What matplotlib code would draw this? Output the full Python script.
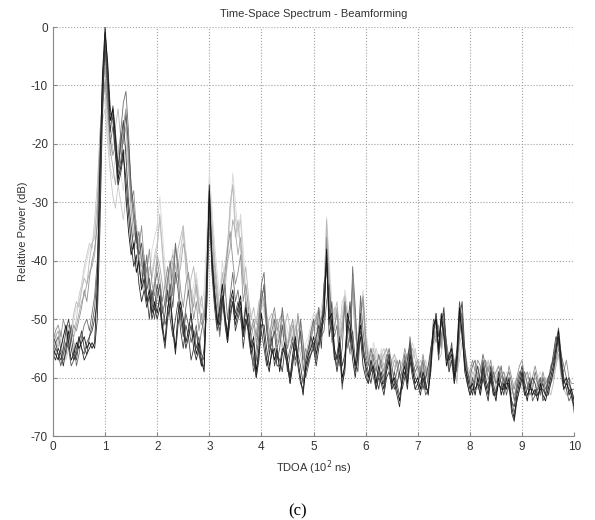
import numpy as np
import matplotlib
matplotlib.use("Agg")
import matplotlib.pyplot as plt

# TDOA grid (10^2 ns), one sample every 0.05
tdoa = np.linspace(0, 10, 201)

# relative power (dB) of the beamformed spectra
s1 = [-55,-56,-57,-55,-53,-51,-54,-57,-56,-54,-55,-54,-53,-55,-54,-55,-54,-44,-24,-8,
      0,-7,-16,-14,-19,-26,-24,-21,-29,-35,-39,-37,-42,-40,-45,-43,-47,-45,-49,-47,
      -49,-46,-51,-54,-48,-46,-51,-55,-49,-47,-50,-54,-52,-49,-53,-56,-54,-57,-59,-42,
      -28,-40,-46,-51,-48,-44,-49,-53,-47,-45,-50,-48,-46,-52,-48,-51,-55,-53,-59,-55,
      -49,-53,-57,-59,-55,-57,-55,-59,-56,-54,-57,-60,-56,-53,-57,-60,-63,-58,-56,-55,
      -53,-56,-54,-51,-49,-38,-50,-49,-55,-57,-54,-60,-58,-49,-51,-55,-58,-54,-51,-56,
      -58,-60,-57,-59,-61,-58,-60,-62,-59,-57,-61,-60,-62,-64,-60,-58,-61,-56,-59,-61,
      -60,-62,-59,-61,-63,-58,-51,-50,-55,-49,-53,-58,-56,-55,-60,-56,-48,-53,-58,-60,
      -62,-61,-63,-60,-62,-58,-61,-63,-59,-62,-64,-60,-63,-61,-62,-60,-65,-67,-63,-61,
      -59,-62,-64,-61,-63,-62,-64,-61,-63,-64,-62,-60,-58,-55,-52,-57,-61,-60,-63,-62,
      -64]
s2 = [-53,-54,-56,-57,-55,-52,-50,-53,-56,-57,-54,-52,-55,-56,-53,-52,-50,-47,-30,-10,
      -3,-10,-18,-13.5,-18,-24,-20,-16,-22,-30,-34,-38,-35,-41,-44,-40,-46,-50,-45,-48,
      -44,-47,-52,-49,-45,-50,-53,-50,-47,-52,-55,-51,-53,-57,-55,-52,-56,-58,-55,-48,
      -30,-42,-48,-52,-49,-46,-51,-54,-50,-47,-52,-50,-48,-55,-51,-49,-53,-57,-60,-56,
      -52,-55,-58,-56,-53,-58,-56,-57,-59,-55,-58,-61,-57,-55,-56,-58,-61,-57,-55,-53,
      -55,-53,-51,-55,-44,-41,-48,-52,-57,-56,-53,-58,-56,-52,-47,-54,-59,-56,-49,-55,
      -57,-59,-61,-58,-60,-62,-59,-61,-58,-56,-60,-62,-61,-59,-62,-60,-57,-54,-58,-60,
      -61,-59,-62,-60,-58,-55,-52,-49,-53,-51,-48,-55,-59,-57,-61,-58,-50,-47,-55,-59,
      -61,-63,-60,-58,-61,-57,-60,-62,-58,-61,-63,-59,-61,-63,-60,-62,-64,-65,-62,-60,
      -58,-61,-63,-62,-60,-61,-63,-62,-61,-63,-60,-59,-56,-53,-54,-59,-62,-61,-60,-63,
      -65]
s3 = [-56,-54,-53,-55,-57,-56,-53,-51,-54,-58,-56,-53,-51,-50,-52,-49,-46,-40,-26,-12,
      -4,-12,-20,-17,-21,-27,-18,-13,-11,-18,-28,-33,-37,-35,-40,-43,-39,-45,-47,-44,
      -42,-45,-49,-47,-43,-40,-46,-37,-42,-49,-52,-48,-45,-50,-53,-51,-55,-52,-50,-46,
      -33,-40,-45,-49,-53,-48,-44,-50,-46,-42,-47,-45,-49,-51,-47,-53,-56,-58,-55,-51,
      -44,-42,-50,-55,-52,-50,-55,-53,-48,-52,-57,-55,-53,-58,-56,-50,-54,-59,-57,-52,
      -50,-55,-48,-53,-52,-47,-44,-50,-53,-51,-58,-55,-47,-53,-56,-41,-48,-57,-46,-52,
      -56,-58,-55,-57,-59,-56,-58,-60,-57,-55,-58,-61,-59,-57,-60,-56,-59,-53,-57,-59,
      -58,-60,-57,-62,-60,-56,-54,-49,-56,-53,-50,-54,-57,-55,-58,-57,-53,-49,-57,-61,
      -60,-58,-57,-61,-59,-56,-58,-60,-61,-59,-61,-60,-58,-62,-60,-59,-61,-64,-61,-59,
      -60,-59,-61,-63,-62,-59,-61,-63,-60,-62,-61,-58,-57,-55,-53,-56,-58,-60,-61,-62,
      -62]
s4 = [-54,-52,-51,-53,-50,-52,-55,-53,-51,-52,-50,-48,-45,-47,-43,-40,-38,-34,-22,-14,
      -9,-14,-19,-22,-20,-24,-21,-17,-14,-22,-30,-28,-35,-38,-34,-40,-42,-38,-44,-46,
      -40,-43,-47,-44,-41,-46,-42,-38,-40,-45,-48,-44,-42,-46,-50,-47,-52,-49,-53,-48,
      -35,-38,-43,-47,-51,-45,-42,-38,-35,-40,-44,-42,-39,-47,-44,-48,-52,-50,-53,-49,
      -45,-47,-51,-54,-50,-48,-52,-50,-49,-53,-55,-52,-50,-54,-49,-53,-57,-55,-58,-54,
      -51,-50,-48,-53,-47,-36,-45,-54,-51,-49,-55,-52,-48,-55,-52,-44,-50,-58,-49,-46,
      -53,-57,-59,-56,-58,-60,-57,-59,-56,-58,-61,-59,-57,-59,-58,-55,-57,-55,-59,-58,
      -57,-59,-56,-59,-61,-55,-52,-54,-51,-55,-49,-56,-58,-55,-57,-59,-52,-51,-56,-60,
      -59,-57,-59,-57,-58,-60,-57,-59,-57,-60,-59,-58,-60,-59,-61,-58,-60,-62,-60,-58,
      -57,-60,-59,-61,-60,-58,-60,-62,-59,-61,-60,-61,-59,-57,-55,-58,-59,-57,-60,-61,
      -61]
s5 = [-52,-53,-55,-52,-54,-56,-53,-52,-49,-47,-48,-45,-43,-44,-40,-37,-36,-30,-18,-13,
      -10,-16,-22,-20,-17,-14,-19,-23,-20,-25,-29,-33,-38,-36,-41,-39,-44,-41,-43,-40,
      -38,-32,-38,-43,-47,-43,-40,-44,-38,-36,-34,-42,-46,-43,-41,-45,-49,-46,-50,-40,
      -27,-34,-40,-44,-48,-42,-46,-38,-30,-27,-36,-33,-38,-44,-41,-46,-50,-48,-51,-47,
      -46,-48,-52,-50,-49,-51,-54,-52,-55,-51,-49,-52,-55,-51,-54,-56,-59,-56,-54,-52,
      -52,-49,-51,-50,-46,-33,-42,-52,-49,-47,-53,-50,-46,-50,-54,-45,-53,-55,-47,-48,
      -54,-56,-58,-55,-57,-59,-56,-58,-57,-59,-57,-56,-58,-60,-59,-57,-58,-57,-55,-57,
      -59,-61,-58,-60,-59,-56,-54,-52,-57,-56,-52,-57,-59,-56,-58,-61,-54,-53,-55,-58,
      -61,-59,-60,-62,-60,-61,-59,-57,-60,-58,-62,-61,-59,-60,-62,-61,-63,-61,-60,-62,
      -61,-62,-60,-59,-62,-63,-61,-60,-62,-60,-62,-63,-61,-58,-56,-60,-62,-63,-62,-64,
      -63]
s6 = [-51,-52,-54,-55,-53,-51,-52,-54,-50,-48,-47,-45,-42,-40,-38,-37,-35,-30,-21,-15,
      -12,-18,-24,-26,-22,-20,-25,-28,-24,-28,-32,-35,-33,-39,-37,-42,-40,-43,-38,-36,
      -34,-29,-35,-41,-45,-42,-38,-42,-44,-39,-34,-38,-43,-47,-44,-42,-46,-48,-45,-36,
      -25,-31,-37,-42,-46,-40,-44,-41,-33,-25,-30,-36,-32,-38,-45,-47,-49,-51,-50,-48,
      -47,-49,-51,-53,-50,-52,-53,-51,-53,-50,-52,-54,-52,-50,-53,-55,-56,-54,-53,-51,
      -49,-52,-50,-48,-45,-32.5,-40,-47,-50,-48,-51,-49,-45,-48,-50,-46,-51,-53,-48,-45,
      -52,-55,-57,-54,-56,-58,-55,-57,-55,-57,-58,-56,-57,-59,-57,-56,-58,-56,-54,-56,
      -57,-59,-57,-58,-60,-57,-53,-51,-54,-53,-50,-55,-58,-57,-59,-60,-55,-52,-56,-59,
      -60,-60,-58,-59,-60,-59,-58,-59,-58,-59,-60,-59,-58,-61,-59,-60,-62,-63,-61,-60,
      -60,-61,-62,-60,-61,-62,-60,-59,-61,-62,-61,-60,-58,-57,-54,-59,-60,-62,-61,-62,
      -62]
s7 = [-54,-55,-53,-52,-55,-57,-55,-53,-52,-50,-46,-44,-41,-39,-37,-38,-33,-27,-19,-16,
      -14,-20,-25,-29,-31,-27,-30,-33,-29,-31,-35,-38,-36,-41,-44,-40,-43,-46,-42,-39,
      -37,-33,-39,-44,-47,-45,-41,-37,-41,-38,-35,-40,-45,-49,-46,-43,-47,-50,-48,-41,
      -28,-33,-39,-45,-49,-43,-41,-37,-31,-27,-33,-35,-33,-41,-46,-49,-51,-53,-52,-50,
      -48,-47,-50,-52,-51,-49,-52,-54,-51,-53,-54,-51,-53,-52,-50,-54,-55,-57,-55,-53,
      -51,-50,-52,-49,-47,-35,-43,-50,-48,-50,-52,-47,-46,-51,-49,-47,-52,-54,-50,-47,
      -53,-56,-55,-57,-55,-57,-56,-55,-58,-56,-57,-58,-59,-57,-58,-57,-56,-58,-57,-55,
      -58,-57,-59,-57,-59,-58,-55,-52,-53,-55,-51,-54,-57,-58,-57,-59,-57,-54,-55,-58,
      -59,-61,-59,-60,-58,-60,-61,-60,-59,-61,-60,-58,-60,-59,-61,-62,-61,-62,-60,-61,
      -62,-60,-61,-62,-60,-61,-62,-61,-60,-61,-63,-61,-59,-58,-56,-58,-61,-61,-62,-63,
      -63]
s8 = [-55,-53,-52,-54,-56,-54,-51,-52,-53,-51,-49,-47,-46,-44,-42,-41,-39,-33,-20,-11,
      -7,-13,-21,-24,-27,-22,-18,-20,-17,-23,-31,-36,-34,-39,-42,-45,-41,-44,-48,-43,
      -39,-41,-44,-48,-44,-41,-39,-41,-43,-41,-37,-39,-43,-45,-48,-44,-48,-51,-49,-44,
      -31,-36,-41,-46,-50,-47,-43,-40,-38,-33,-35,-39,-36,-43,-47,-50,-53,-51,-54,-50,
      -46,-45,-49,-52,-54,-51,-50,-53,-50,-51,-55,-53,-51,-55,-52,-51,-56,-58,-56,-53,
      -50,-51,-49,-52,-48,-37,-46,-51,-52,-48,-54,-51,-47,-49,-53,-43,-49,-56,-48,-47,
      -55,-57,-56,-58,-57,-58,-57,-56,-55,-57,-59,-57,-58,-60,-59,-58,-56,-55,-58,-59,
      -60,-58,-60,-58,-60,-57,-53,-53,-52,-54,-50,-55,-59,-56,-59,-58,-51,-52,-57,-59,
      -60,-62,-61,-59,-61,-59,-60,-58,-61,-60,-61,-59,-61,-62,-60,-61,-62,-63,-62,-59,
      -59,-61,-62,-61,-61,-60,-61,-63,-60,-61,-62,-61,-60,-56,-53,-57,-60,-62,-61,-63,
      -64]
s9 = [-57,-55,-56,-58,-56,-54,-55,-58,-57,-55,-53,-55,-56,-54,-53,-51,-48,-42,-28,-9,
      -2,-9,-15,-15,-20,-25,-23,-19,-15,-20,-27,-31,-36,-39,-37,-42,-45,-43,-47,-50,
      -46,-44,-48,-51,-49,-44,-48,-42,-45,-50,-53,-49,-51,-54,-52,-55,-53,-56,-57,-44,
      -29,-41,-47,-50,-52,-47,-50,-52,-48,-46,-49,-47,-50,-53,-50,-52,-55,-59,-57,-53,
      -47,-44,-52,-56,-54,-52,-57,-55,-51,-55,-59,-56,-54,-57,-55,-52,-58,-60,-58,-56,
      -54,-57,-52,-50,-48,-40,-51,-47,-56,-58,-55,-62,-57,-50,-54,-52,-57,-59,-52,-54,
      -59,-61,-58,-60,-62,-59,-61,-61,-58,-56,-62,-59,-61,-63,-61,-57,-60,-55,-58,-62,
      -62,-61,-60,-63,-62,-57,-50,-51,-57,-50,-49,-56,-57,-54,-59,-55,-47,-50,-57,-61,
      -63,-60,-62,-61,-63,-59,-62,-61,-60,-63,-62,-61,-62,-60,-63,-61,-64,-66,-64,-62,
      -60,-63,-62,-60,-64,-63,-62,-60,-64,-63,-61,-59,-57,-54,-51.5,-56,-60,-62,-64,-63,
      -66]
s10 = [-56,-57,-55,-56,-58,-55,-52,-55,-57,-56,-53,-55,-57,-56,-55,-54,-55,-50,-35,-15,
       -1,-6,-14,-16,-22,-27,-25,-22,-26,-32,-37,-41,-39,-44,-47,-45,-48,-46,-50,-48,
       -50,-48,-52,-55,-50,-47,-52,-56,-51,-48,-52,-55,-53,-51,-55,-57,-55,-58,-58,-47,
       -27,-39,-45,-50,-51,-46,-50,-54,-49,-47,-51,-49,-47,-53,-50,-52,-56,-54,-60,-57,
       -51,-51,-55,-58,-56,-55,-58,-58,-55,-56,-58,-61,-58,-54,-58,-61,-62,-59,-57,-56,
       -55,-58,-55,-52,-50,-39,-53,-50,-56,-59,-56,-61,-59,-51,-52,-57,-60,-56,-53,-58,
       -60,-61,-59,-58,-62,-60,-61,-63,-60,-59,-62,-61,-63,-65,-61,-59,-62,-57,-60,-62,
       -61,-63,-60,-62,-62,-59,-52,-50,-56,-50,-52,-57,-57,-56,-61,-57,-49,-52,-59,-61,
       -63,-62,-62,-61,-63,-60,-62,-64,-60,-63,-63,-61,-62,-62,-61,-61,-66,-67.5,-64,-62,
       -60,-63,-63,-62,-62,-63,-63,-62,-62,-63,-63,-61,-59,-56,-53,-58,-62,-61,-62,-63,
       -65]

# light traces first, darkest on top
spectra = [s6, s7, s5, s8, s4, s3, s9, s2, s10, s1]
shades = ["#d8d8d8", "#c8c8c8", "#b8b8b8", "#a6a6a6", "#909090",
          "#6e6e6e", "#575757", "#404040", "#2a2a2a", "#121212"]

plt.rcParams["font.family"] = ["Liberation Sans", "DejaVu Sans"]
plt.rcParams["axes.unicode_minus"] = False

fig = plt.figure(figsize=(5.95, 5.2), dpi=100)
ax = fig.add_axes([0.089, 0.1615, 0.876, 0.7865])

for s, c in zip(spectra, shades):
    ax.plot(tdoa, s, color=c, linewidth=0.6)

ax.set_xlim(0, 10)
ax.set_ylim(-70, 0)
ax.set_xticks(range(0, 11))
ax.set_yticks(range(-70, 1, 10))
ax.grid(True, linestyle=":", color="#a0a0a0", linewidth=0.8)
for side in ["top", "right"]:
    ax.spines[side].set_visible(False)
for side in ["left", "bottom"]:
    ax.spines[side].set_color("#888888")
ax.tick_params(direction="in", length=3, colors="#888888", labelcolor="#333333", labelsize=8.5)

ax.set_title("Time-Space Spectrum - Beamforming", fontsize=8, color="#333333", pad=7)
ax.set_xlabel("TDOA (10$^2$ ns)", fontsize=8, color="#333333", labelpad=4)
ax.set_ylabel("Relative Power (dB)", fontsize=8, color="#333333", labelpad=2)
fig.text(0.5, 0.008, "(c)", ha="center", fontsize=12, family="Liberation Serif")

fig.savefig("out.png", dpi=100)
